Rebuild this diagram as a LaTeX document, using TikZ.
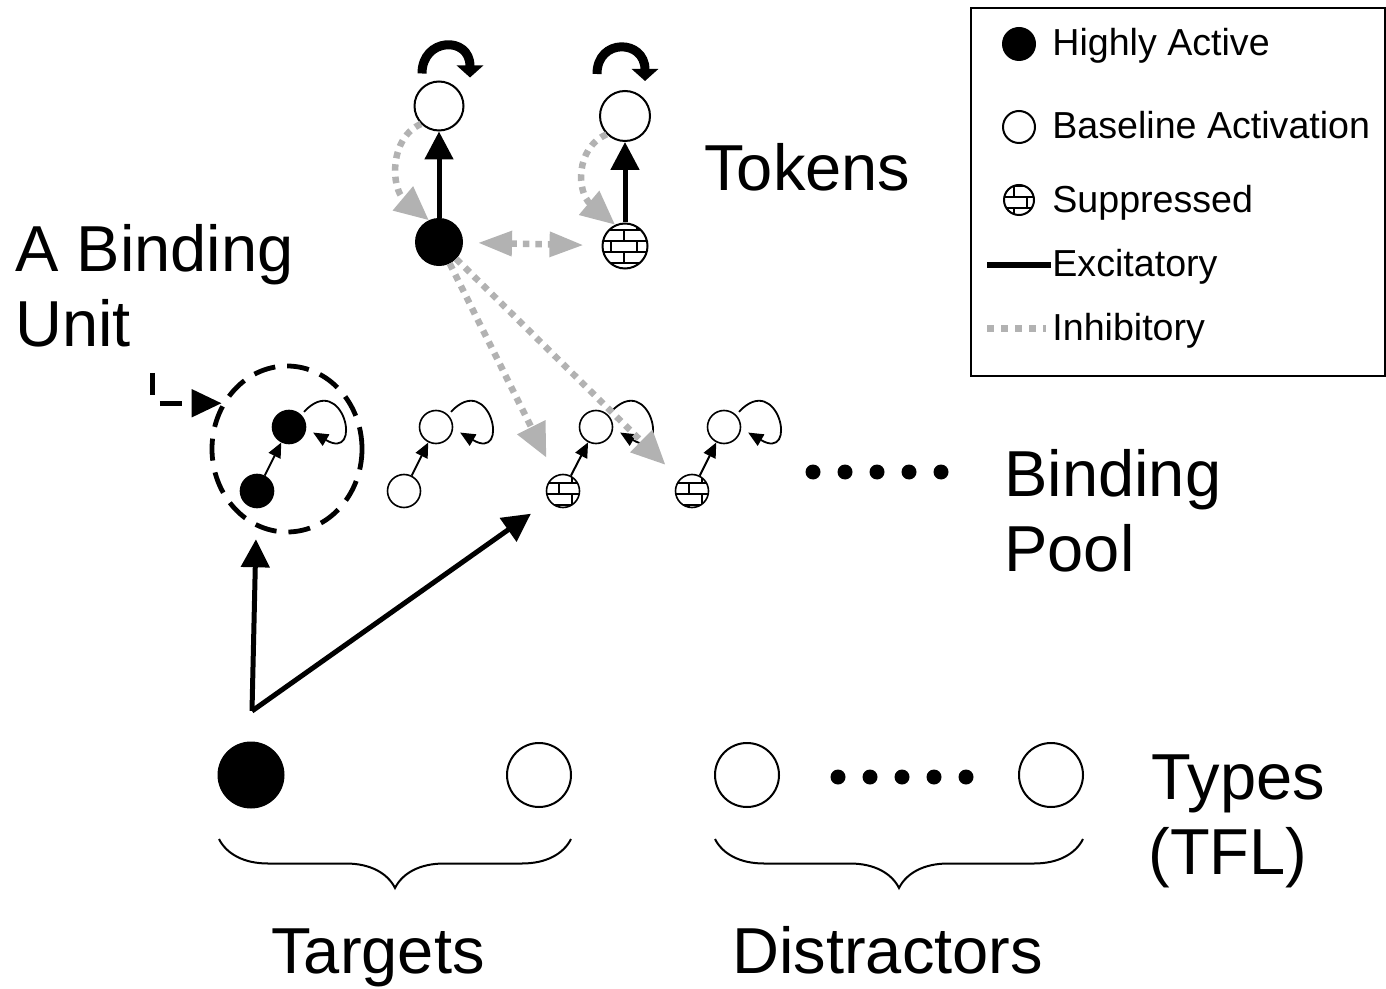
\documentclass[tikz,border=0pt]{standalone}
\usepackage{fontspec}
\setmainfont{Liberation Sans}
\usetikzlibrary{arrows.meta,shapes.geometric,decorations.pathreplacing,patterns}
\definecolor{inhibgray}{RGB}{178,178,178}
% brick fill for suppressed units
\pgfdeclarepatternformonly{brickwall}{\pgfpoint{-0.5pt}{-0.5pt}}{\pgfpoint{13.5pt}{11.5pt}}{\pgfpoint{13pt}{11pt}}{
  \pgfsetlinewidth{0.6pt}
  \pgfpathmoveto{\pgfpoint{0pt}{0pt}}\pgfpathlineto{\pgfpoint{13pt}{0pt}}
  \pgfpathmoveto{\pgfpoint{0pt}{5.5pt}}\pgfpathlineto{\pgfpoint{13pt}{5.5pt}}
  \pgfpathmoveto{\pgfpoint{0pt}{0pt}}\pgfpathlineto{\pgfpoint{0pt}{5.5pt}}
  \pgfpathmoveto{\pgfpoint{6.5pt}{5.5pt}}\pgfpathlineto{\pgfpoint{6.5pt}{11pt}}
  \pgfusepath{stroke}}
\begin{document}
\begin{tikzpicture}[x=0.5pt, y=-0.5pt,
    hot/.style={circle, draw, fill=black, inner sep=0pt, line width=1pt},
    rest/.style={circle, draw, fill=white, inner sep=0pt, line width=1pt},
    supp/.style={circle, draw, pattern=brickwall, inner sep=0pt, line width=1pt},
    cell/.style={minimum size=16.5pt, line width=0.8pt},
    excite/.style={line width=2.5pt, -{Triangle[length=14pt, width=14pt]}},
    inhib/.style={draw=inhibgray, line width=3.25pt, dash pattern=on 3.25pt off 3pt, -{Triangle[length=17pt, width=15pt]}},
    link/.style={line width=1pt, -{Triangle[length=7.5pt, width=6.5pt]}},
    loopback/.style={line width=0.9pt, -{Triangle[length=7.5pt, width=6.5pt]}, shorten <=2pt, shorten >=4pt},
    recur/.style={line width=4.5pt, -{Triangle[length=6pt, width=13pt]}},
    grp/.style={decorate, decoration={brace, mirror, amplitude=24.5pt}, line width=1pt},
    lbl/.style={anchor=base west, inner sep=0pt, font=\fontsize{32.5}{37.5}\selectfont},
    keylbl/.style={anchor=base west, inner sep=0pt, font=\fontsize{18.8}{22}\selectfont}]
  \useasboundingbox (0,0) rectangle (1386,989);

  % legend
  \draw[line width=0.9pt] (971,8) rectangle (1385,376);
  \node[hot, minimum size=16pt] (k0) at (1019,44) {};
  \node[keylbl] (k0l) at (1052,56) {Highly Active};
  \node[rest, minimum size=16pt] (k1) at (1019,127) {};
  \node[keylbl] (k1l) at (1052,139) {Baseline Activation};
  \node[supp, minimum size=15pt] (k2) at (1019,200) {};
  \node[keylbl] (k2l) at (1052,213) {Suppressed};
  \draw[line width=3pt] (987,265) -- (1051,265);
  \node[keylbl] (k3l) at (1052,277) {Excitatory};
  \draw[draw=inhibgray, line width=3.5pt, dash pattern=on 3.5pt off 3.5pt] (987,329) -- (1046,329);
  \node[keylbl] (k4l) at (1052,341) {Inhibitory};

  % tokens
  \node[rest, minimum size=24.5pt] (t0) at (439,106) {};
  \node[hot, minimum size=23pt] (t1) at (439,242) {};
  \node[rest, minimum size=25pt] (t2) at (625,116) {};
  \node[supp, minimum size=22.5pt] (t3) at (625,246) {};
  \draw[excite] (t1) -- (t0);
  \draw[excite] (t3) -- (t2);
  \draw[recur] ([shift={(-17,-7)}]t0.north) .. controls +(0,-36) and +(0,-42) .. ([shift={(31,-3)}]t0.north);
  \draw[recur] ([shift={(-28,-16)}]t2.north) .. controls +(0,-36) and +(0,-42) .. ([shift={(20,-9)}]t2.north);
  \draw[inhib] (t0.225) .. controls +(-32,14) and +(-38,-32) .. (t1.115);
  \draw[inhib] (t2.225) .. controls +(-32,14) and +(-38,-32) .. (t3.115);
  \draw[inhib, {Triangle[length=17pt, width=12pt]}-{Triangle[length=17pt, width=12pt]}, shorten <=7.5pt, shorten >=9pt] (t1) -- (t3);
  \node[lbl] (ltok) at (704,191) {Tokens};

  % binding pool
  \node[draw, ellipse, line width=2.4pt, dash pattern=on 11pt off 6pt, minimum width=75pt, minimum height=83pt] (bu) at (287,449) {};
  \node[hot, cell] (u0b) at (257,491) {};
  \node[hot, cell] (u0t) at (289,427) {};
  \node[rest, cell] (u1b) at (404,491) {};
  \node[rest, cell] (u1t) at (436,427) {};
  \node[supp, cell] (u2b) at (563,491) {};
  \node[rest, cell] (u2t) at (596,427) {};
  \node[supp, cell] (u3b) at (692,491) {};
  \node[rest, cell] (u3t) at (724,427) {};
  \draw[link] (u0b) -- (u0t);
  \draw[link] (u1b) -- (u1t);
  \draw[link] (u2b) -- (u2t);
  \draw[link] (u3b) -- (u3t);
  \draw[loopback] (u0t.45) .. controls +(42,-45) and +(58,34) .. (u0t.-5);
  \draw[loopback] (u1t.45) .. controls +(42,-45) and +(58,34) .. (u1t.-5);
  \draw[loopback] (u2t.45) .. controls +(42,-45) and +(58,34) .. (u2t.-5);
  \draw[loopback] (u3t.45) .. controls +(42,-45) and +(58,34) .. (u3t.-5);
  \foreach \x in {813,845,877,909,941}
    \fill (\x,472) circle (3.75pt);
  \draw[inhib, shorten >=10pt] (t1) -- (u2b);
  \draw[inhib, shorten >=10pt] (t1) -- (u3b);
  \coordinate (lb) at (152,373);
  \draw[line width=2.5pt, dash pattern=on 11pt off 8pt, -{Triangle[length=15pt, width=13.5pt]}] (lb) |- (bu.145);
  \node[lbl] (lbu0) at (15,272) {A Binding};
  \node[lbl] (lbu1) at (15,347) {Unit};
  \node[lbl] (lbp0) at (1004,496) {Binding};
  \node[lbl] (lbp1) at (1004,571) {Pool};

  % types
  \node[hot, minimum size=32.5pt] (ty0) at (251,775) {};
  \node[rest, minimum size=32pt] (ty1) at (539,775) {};
  \node[rest, minimum size=32pt] (ty2) at (747,775) {};
  \node[rest, minimum size=32pt] (ty3) at (1051,775) {};
  \foreach \x in {838,870,902,934,966}
    \fill (\x,777) circle (3.75pt);
  \coordinate (j0) at (252,711);
  \draw[excite, shorten >=15.5pt] (j0) -- (u0b);
  \draw[excite, shorten >=11pt] (j0) -- (u2b);
  \draw[grp] (219,839) -- (571,839);
  \draw[grp] (715,839) -- (1083,839);
  \node[lbl] (lty0) at (1151,799) {Types};
  \node[lbl] (lty1) at (1148,874) {(TFL)};
  \node[lbl] (ltg) at (271,973) {Targets};
  \node[lbl] (lds) at (732,973) {Distractors};
\end{tikzpicture}
\end{document}
